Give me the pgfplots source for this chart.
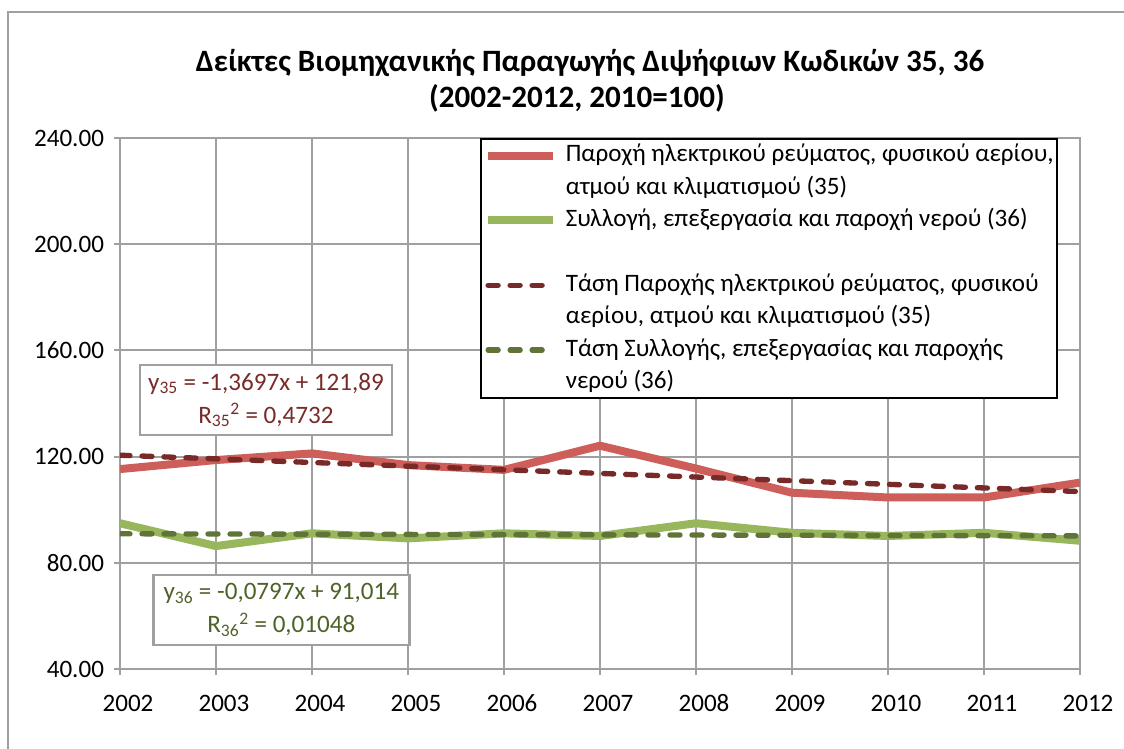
\documentclass[border=0pt]{standalone}
\usepackage{pgfplots}
\pgfplotsset{compat=1.18}
\usepackage{fontspec}
\setmainfont{Carlito}

\definecolor{elec}{RGB}{205,94,89}
\definecolor{water}{RGB}{152,182,92}
\definecolor{electrend}{RGB}{120,42,40}
\definecolor{watertrend}{RGB}{96,116,56}
\definecolor{gridgray}{RGB}{160,160,160}
\definecolor{lbl35}{RGB}{119,44,42}
\definecolor{lbl36}{RGB}{79,98,40}

\newcommand{\chartfont}{\fontsize{18.8pt}{24.5pt}\selectfont}

\begin{document}
\begin{tikzpicture}
% picture is 1124x749 px, 1 px = 0.75pt, origin at the plot's lower left
\useasboundingbox (-90pt,-60pt) rectangle (753pt,501.75pt);
\draw[gridgray, line width=1.5pt] (-84pt,-62pt) -- (-84pt,492.75pt) -- (755pt,492.75pt);

\begin{axis}[
  scale only axis, width=720pt, height=398.25pt,
  xmin=2002, xmax=2012, ymin=40, ymax=240,
  xtick={2002,2003,...,2012}, ytick={40,80,...,240},
  grid=major, grid style={gridgray, line width=1.5pt},
  axis line style={gridgray, line width=1.5pt},
  tick style={gridgray, line width=1.5pt},
  tick align=outside, tick pos=left, major tick length=4.5pt,
  /pgf/number format/assume math mode=true,
  tick label style={font=\chartfont, black},
  x tick label style={/pgf/number format/1000 sep={}, anchor=north,
    text height=13pt, text depth=0pt, yshift=-11pt, xshift=6pt},
  y tick label style={/pgf/number format/.cd, fixed, fixed zerofill, precision=2, /tikz/.cd, xshift=-4pt},
  legend style={at={(0.977,1)}, anchor=north east, draw=black, line width=1.5pt,
    fill=white, inner xsep=2.5pt, inner ysep=0pt, column sep=6.5pt, row sep=0pt,
    font=\chartfont,
    cells={anchor=base west},
    nodes={inner xsep=0pt, inner ysep=0pt, text height=17pt, text depth=7.3pt}},
  legend image code/.code={\draw[#1] (0pt,4.5pt) -- (48.75pt,4.5pt);},
]
% index 35: electricity, gas, steam, air conditioning
\addplot[elec, line width=6pt, line join=round] coordinates {
  (2002,115.3) (2003,118.7) (2004,121.2) (2005,116.8) (2006,115.0) (2007,124.1)
  (2008,115.5) (2009,106.4) (2010,104.6) (2011,104.6) (2012,110.2)
};
\addlegendentry{Παροχή ηλεκτρικού ρεύματος, φυσικού αερίου,}
\addlegendimage{empty legend}
\addlegendentry{ατμού και κλιματισμού (35)}
% index 36: water collection, treatment and supply
\addplot[water, line width=6pt, line join=round] coordinates {
  (2002,94.9) (2003,86.3) (2004,91.1) (2005,89.2) (2006,91.1) (2007,90.1)
  (2008,94.9) (2009,91.3) (2010,90.1) (2011,91.3) (2012,88.3)
};
\addlegendentry{Συλλογή, επεξεργασία και παροχή νερού (36)}
\addlegendimage{empty legend}
\addlegendentry{}
% linear trends, end points of the fitted lines
\addplot[electrend, line width=4pt, line cap=round, dash pattern=on 7.5pt off 9pt] coordinates {
  (2002,120.52) (2012,106.82)
};
\addlegendentry{Τάση Παροχής ηλεκτρικού ρεύματος, φυσικού}
\addlegendimage{empty legend}
\addlegendentry{αερίου, ατμού και κλιματισμού (35)}
\addplot[watertrend, line width=4pt, line cap=round, dash pattern=on 7.5pt off 9pt] coordinates {
  (2002,90.93) (2012,90.14)
};
\addlegendentry{Τάση Συλλογής, επεξεργασίας και παροχής}
\addlegendimage{empty legend}
\addlegendentry{νερού (36)}

\node[draw=gridgray, line width=2pt, fill=white, text=lbl35, align=center,
  font=\chartfont, minimum width=189pt, minimum height=52.5pt, inner sep=2pt]
  at (axis cs:2003.52,141.3)
  {y\textsubscript{35} = -1,3697x + 121,89\\R\textsubscript{35}\textsuperscript{2} = 0,4732};
\node[draw=gridgray, line width=2pt, fill=white, text=lbl36, align=center,
  font=\chartfont, minimum width=192pt, minimum height=52.5pt, inner sep=2pt]
  at (axis cs:2003.68,62.2)
  {y\textsubscript{36} = -0,0797x + 91,014\\R\textsubscript{36}\textsuperscript{2} = 0,01048};
\end{axis}

\node[anchor=base, font=\fontsize{23.3pt}{27pt}\selectfont\bfseries]
  at (352.5pt,447.75pt) {Δείκτες Βιομηχανικής Παραγωγής Διψήφιων Κωδικών 35, 36};
\node[anchor=base, font=\fontsize{23.3pt}{27pt}\selectfont\bfseries]
  at (342.75pt,420.75pt) {(2002-2012, 2010=100)};
\end{tikzpicture}
\end{document}
